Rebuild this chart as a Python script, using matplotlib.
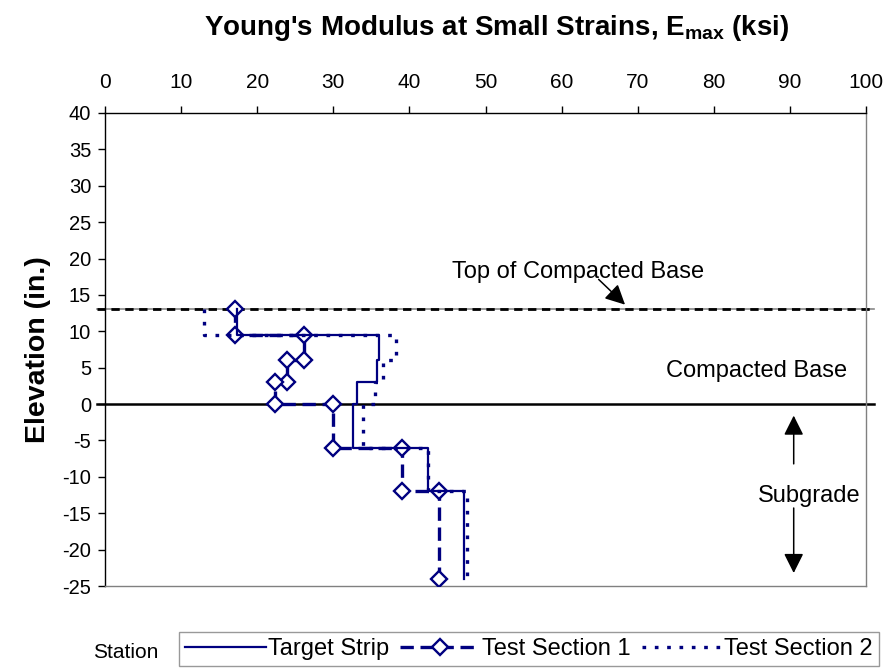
import matplotlib
matplotlib.use("Agg")
import matplotlib.pyplot as plt
from matplotlib.lines import Line2D

plt.rcParams['font.family'] = ['Liberation Sans', 'DejaVu Sans']
plt.rcParams['mathtext.fontset'] = 'custom'
plt.rcParams['mathtext.rm'] = 'Liberation Sans'
plt.rcParams['mathtext.bf'] = 'Liberation Sans:bold'
plt.rcParams['axes.unicode_minus'] = False

# ---- data ----
layer_bounds = [13, 9.5, 6, 3, 0, -6, -12, -24]          # elevation (in.)
target_strip = [17.4, 36.0, 35.7, 33.1, 32.6, 42.4, 47.2]  # Emax (ksi)
test_section1 = [17.1, 26.1, 23.9, 22.3, 30.0, 39.0, 43.9]
test_section2 = [13.0, 38.2, 36.5, 35.5, 33.9, 42.4, 47.6]
series_names = ["Target Strip", "Test Section 1", "Test Section 2"]
x_ticks = [0, 10, 20, 30, 40, 50, 60, 70, 80, 90, 100]
y_ticks = list(range(-25, 41, 5))
top_base = 13
base_bottom = 0


def step_profile(values, bounds):
    xs, ys = [], []
    for i, v in enumerate(values):
        xs += [v, v]
        ys += [bounds[i], bounds[i + 1]]
    return xs, ys


navy = '#000080'
fig = plt.figure(figsize=(8.89, 6.69), dpi=100)
ax = fig.add_axes([105 / 889, 1 - 586 / 669, (866 - 105) / 889, (586 - 113) / 669])

# reference lines
ax.plot([-1, 101], [top_base, top_base], color='#888888', lw=1.2, clip_on=False, zorder=2)
ax.plot([-1, 101], [top_base, top_base], color='black', lw=2.0, dashes=(3, 2), clip_on=False, zorder=2)
ax.plot([-1, 101], [base_bottom, base_bottom], color='black', lw=1.8, clip_on=False, zorder=2)

xs, ys = step_profile(target_strip, layer_bounds)
l1, = ax.plot(xs, ys, color=navy, lw=1.6, zorder=4)
xs, ys = step_profile(test_section1, layer_bounds)
l2, = ax.plot(xs, ys, color=navy, lw=2.4, dashes=(4, 2), marker='D', ms=8,
              mfc='white', mec=navy, mew=1.7, zorder=3)
xs, ys = step_profile(test_section2, layer_bounds)
l3, = ax.plot(xs, ys, color=navy, lw=2.4, dashes=(1.1, 2.6), zorder=3)

ax.set_xlim(0, 100)
ax.set_ylim(-25, 40)
ax.set_xticks(x_ticks)
ax.set_yticks(y_ticks)
ax.xaxis.tick_top()
ax.xaxis.set_label_position('top')
ax.tick_params(axis='x', which='both', top=True, bottom=False, labelsize=15,
               length=5, width=1, direction='out', pad=10)
ax.tick_params(axis='y', which='both', left=True, right=False, labelsize=14.5,
               length=5, width=1, direction='out', pad=5)
for s in ['top', 'left']:
    ax.spines[s].set_color('black')
    ax.spines[s].set_linewidth(1.0)
for s in ['right', 'bottom']:
    ax.spines[s].set_color('#808080')
    ax.spines[s].set_linewidth(1.0)

ax.set_ylabel("Elevation (in.)", fontsize=20.5, fontweight='bold', labelpad=8)
fig.text(497 / 889, 1 - 28 / 669, r"Young's Modulus at Small Strains, $\mathbf{E_{max}}$ (ksi)",
         fontsize=20, fontweight='bold', ha='center', va='center')

# annotations
arrow_kw = dict(arrowstyle='-|>', color='black', lw=1.1, mutation_scale=30)
ax.text(62.2, 18.1, "Top of Compacted Base", fontsize=17, ha='center', va='center')
ax.annotate("", xy=(68.6, 13.4), xytext=(64.6, 17.4), arrowprops=arrow_kw)
ax.text(85.6, 4.6, "Compacted Base", fontsize=17, ha='center', va='center')
ax.text(92.6, -12.6, "Subgrade", fontsize=17, ha='center', va='center')
ax.annotate("", xy=(90.5, -1.2), xytext=(90.5, -8.6), arrowprops=arrow_kw)
ax.annotate("", xy=(90.5, -23.6), xytext=(90.5, -13.9), arrowprops=arrow_kw)

# legend
h2 = Line2D([], [], color=navy, lw=2.4, dashes=(4, 2), marker='D', ms=8,
            mfc='white', mec=navy, mew=1.7)
leg = fig.legend([l1, h2, l3], series_names, loc='center', ncol=3,
                 bbox_to_anchor=(529 / 889, 1 - 649 / 669), fontsize=17,
                 frameon=True, fancybox=False, edgecolor='#808080',
                 handlelength=3.4, handletextpad=0.1, columnspacing=0.45,
                 borderpad=0.25, borderaxespad=0)
leg.get_frame().set_linewidth(1.0)
fig.text(126 / 889, 1 - 652 / 669, "Station", fontsize=15, ha='center', va='center')

fig.savefig("out.png", dpi=100)
